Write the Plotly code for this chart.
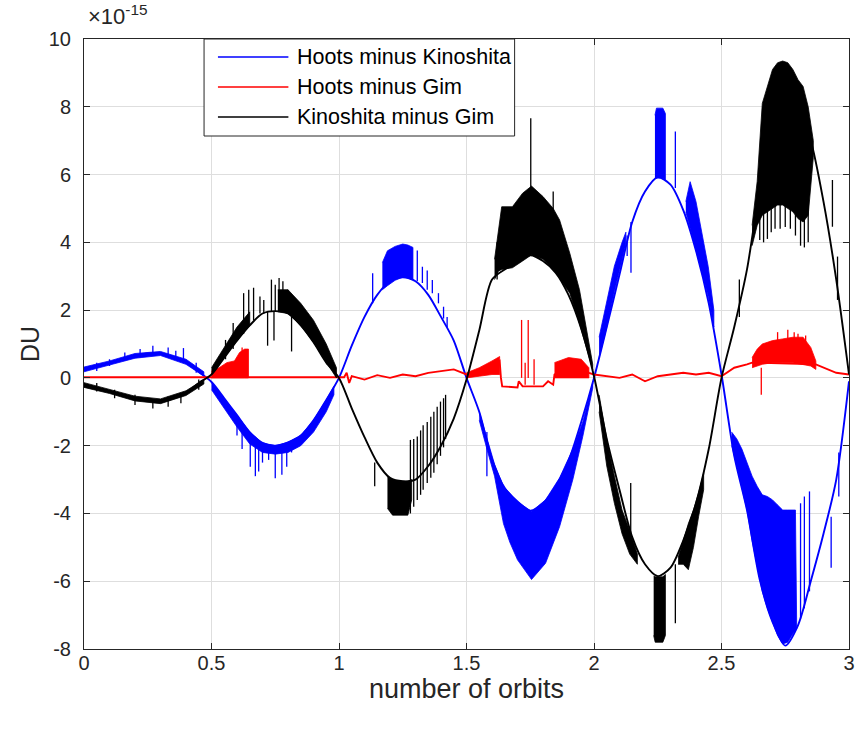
import plotly.graph_objects as go

# ---------------- data (values in units of 1e-15 DU) ----------------
X_SAMPLES = [0.0, 0.05, 0.1, 0.15, 0.2, 0.25, 0.3, 0.35, 0.4, 0.45,
             0.5, 0.55, 0.6, 0.65, 0.7, 0.75, 0.8, 0.85, 0.9, 0.95,
             1.0, 1.05, 1.1, 1.15, 1.2, 1.25, 1.3, 1.35, 1.4, 1.45,
             1.5, 1.55, 1.6, 1.65, 1.7, 1.75, 1.8, 1.85, 1.9, 1.95,
             2.0, 2.05, 2.1, 2.15, 2.2, 2.25, 2.3, 2.35, 2.4, 2.45,
             2.5, 2.55, 2.6, 2.65, 2.7, 2.75, 2.8, 2.85, 2.9, 2.95,
             3.0]

BLUE_BASE = [0.25, 0.35, 0.45, 0.55, 0.65, 0.72, 0.72, 0.62, 0.45, 0.18,
             -0.12, -0.6, -1.1, -1.6, -1.92, -2.0, -1.9, -1.7, -1.25, -0.65,
             0.0, 0.95, 1.8, 2.45, 2.85, 2.97, 2.85, 2.45, 1.8, 1.1,
             0.0, -1.0, -2.4, -3.25, -3.65, -3.92, -3.7, -3.2, -2.45, -1.3,
             0.0, 1.5, 3.05, 4.6, 5.5, 5.92, 5.7, 4.95, 3.75, 2.2,
             0.1, -2.3, -3.9, -5.95, -7.2, -7.9, -7.3, -6.0, -4.6, -3.0,
             -0.1]

BLACK_BASE = [-0.2, -0.3, -0.4, -0.5, -0.6, -0.65, -0.7, -0.6, -0.45, -0.15,
              0.1, 0.6, 1.1, 1.55, 1.9, 1.97, 1.9, 1.55, 1.05, 0.45,
              0.0, -0.9, -1.75, -2.5, -2.95, -3.05, -3.0, -2.6, -2.0, -1.2,
              -0.05, 1.4, 2.9, 3.2, 3.4, 3.62, 3.45, 3.1, 2.45, 1.45,
              0.05, -1.8, -3.3, -4.7, -5.5, -5.85, -5.6, -4.8, -3.7, -2.1,
              0.0, 1.5, 3.2, 5.6, 7.4, 8.35, 7.95, 7.0, 5.2, 2.9,
              0.1]

RED_X = [0.0, 0.5, 0.645, 1.02, 1.03, 1.04, 1.05, 1.1, 1.15, 1.2, 1.25, 1.3, 1.35, 1.4, 1.45, 1.5,
         1.55, 1.6, 1.63, 1.635, 1.64, 1.70, 1.705, 1.72, 1.80, 1.82, 1.84, 1.845, 1.9, 1.95, 1.98, 2.0,
         2.05, 2.1, 2.15, 2.2, 2.25, 2.3, 2.35, 2.4, 2.45, 2.5, 2.55, 2.6, 2.62, 2.87, 2.9, 2.95, 3.0]
RED_Y = [0.02, 0.02, 0.02, 0.02, 0.15, -0.15, 0.05, -0.05, 0.08, 0.0, 0.1, 0.05, 0.15, 0.2, 0.25, 0.1,
         0.2, 0.35, 0.5, 0.0, -0.25, -0.28, -0.1, -0.25, -0.25, -0.1, -0.2, 0.1, 0.35, 0.3, 0.15, 0.1,
         0.05, 0.0, 0.1, -0.1, 0.05, 0.1, 0.15, 0.1, 0.15, 0.05, 0.3, 0.4, 0.45, 0.4, 0.3, 0.15, 0.1]

# dense hatched regions (x, lower edge, upper edge)
BLUE_L1_X = [0.0, 0.1, 0.2, 0.3, 0.4, 0.47]
BLUE_L1_LO = [0.18, 0.38, 0.58, 0.66, 0.4, 0.05]
BLUE_L1_HI = [0.32, 0.5, 0.72, 0.78, 0.55, 0.18]
BLUE_L2_X = [0.50, 0.55, 0.60, 0.65, 0.70, 0.75, 0.80, 0.85, 0.90, 0.95, 0.98]
BLUE_L2_LO = [-0.35, -0.9, -1.45, -1.95, -2.2, -2.25, -2.2, -2.0, -1.6, -1.0, -0.5]
BLUE_L2_HI = [-0.12, -0.6, -1.1, -1.6, -1.92, -2.0, -1.9, -1.7, -1.25, -0.65, -0.25]
BLUE_L3_X = [1.17, 1.19, 1.22, 1.25, 1.27, 1.29]
BLUE_L3_LO = [2.6, 2.72, 2.88, 2.97, 2.95, 2.9]
BLUE_L3_HI = [3.4, 3.75, 3.88, 3.95, 3.92, 3.85]
BLUE_L4_X = [1.55, 1.58, 1.61, 1.645, 1.67, 1.70, 1.755, 1.81, 1.865, 1.917, 1.956, 1.995]
BLUE_L4_LO = [-1.25, -2.1, -2.9, -4.3, -4.85, -5.37, -5.95, -5.47, -4.39, -3.0, -1.73, -0.3]
BLUE_L4_HI = [-1.0, -1.75, -2.55, -3.2, -3.4, -3.65, -3.94, -3.6, -2.95, -2.1, -1.3, -0.15]
BLUE_L5A_X = [2.02, 2.05, 2.08, 2.11, 2.125]
BLUE_L5A_LO = [0.6, 1.5, 2.55, 3.5, 3.95]
BLUE_L5A_HI = [1.2, 2.3, 3.3, 4.0, 4.3]
BLUE_L5B_X = [2.239, 2.245, 2.27, 2.28]
BLUE_L5B_LO = [5.88, 5.9, 5.9, 5.85]
BLUE_L5B_HI = [7.75, 7.96, 7.96, 7.8]
BLUE_L5C_X = [2.36, 2.377, 2.40, 2.42, 2.448, 2.47]
BLUE_L5C_LO = [4.9, 4.4, 3.75, 3.2, 2.4, 1.5]
BLUE_L5C_HI = [5.2, 5.79, 5.2, 4.37, 3.28, 2.0]
BLUE_L6_X = [2.54, 2.56, 2.58, 2.60, 2.62, 2.64, 2.66, 2.68, 2.70, 2.72, 2.74, 2.76, 2.78, 2.79, 2.795]
BLUE_L6_LO = [-2.0, -2.6, -3.2, -3.9, -4.8, -5.6, -6.3, -6.8, -7.2, -7.6, -7.85, -7.8, -7.55, -7.45, -7.4]
BLUE_L6_HI = [-1.6, -1.8, -2.1, -2.5, -2.9, -3.2, -3.45, -3.5, -3.6, -3.75, -3.9, -3.9, -3.9, -3.9, -7.4]

BLACK_L1_X = [0.0, 0.1, 0.2, 0.3, 0.4, 0.47]
BLACK_L1_LO = [-0.28, -0.46, -0.68, -0.76, -0.52, -0.18]
BLACK_L1_HI = [-0.14, -0.34, -0.54, -0.62, -0.38, -0.05]
BLACK_L2A_X = [0.50, 0.55, 0.60, 0.65]
BLACK_L2A_LO = [0.1, 0.6, 1.1, 1.55]
BLACK_L2A_HI = [0.3, 0.9, 1.5, 1.95]
BLACK_L2B_X = [0.76, 0.80, 0.85, 0.90, 0.95, 0.99]
BLACK_L2B_LO = [1.95, 1.9, 1.55, 1.05, 0.45, 0.0]
BLACK_L2B_HI = [2.6, 2.6, 2.2, 1.7, 1.0, 0.3]
BLACK_L3_X = [1.19, 1.21, 1.24, 1.27, 1.285]
BLACK_L3_LO = [-3.85, -4.05, -4.05, -4.05, -3.6]
BLACK_L3_HI = [-2.9, -3.0, -3.05, -3.05, -3.0]
BLACK_L4_X = [1.61, 1.625, 1.638, 1.68, 1.72, 1.755, 1.80, 1.84, 1.865, 1.905, 1.943, 1.995]
BLACK_L4_LO = [2.9, 3.15, 3.2, 3.25, 3.45, 3.63, 3.5, 3.2, 2.95, 2.5, 1.61, 0.24]
BLACK_L4_HI = [3.5, 4.3, 5.05, 5.05, 5.45, 5.66, 5.35, 5.0, 4.66, 3.68, 2.6, 0.4]
BLACK_L5A_X = [2.02, 2.05, 2.08, 2.11, 2.14, 2.17]
BLACK_L5A_LO = [-1.0, -2.6, -3.7, -4.6, -5.2, -5.5]
BLACK_L5A_HI = [-0.5, -1.8, -2.9, -3.9, -4.5, -5.2]
BLACK_L5B_X = [2.234, 2.24, 2.27, 2.28]
BLACK_L5B_LO = [-7.6, -7.8, -7.8, -7.6]
BLACK_L5B_HI = [-5.85, -5.87, -5.87, -5.8]
BLACK_L5C_X = [2.33, 2.35, 2.37, 2.39, 2.41, 2.43]
BLACK_L5C_LO = [-5.5, -5.5, -5.66, -5.0, -4.1, -3.3]
BLACK_L5C_HI = [-5.3, -4.8, -4.3, -3.9, -3.4, -2.8]
BLACK_L6_X = [2.62, 2.64, 2.66, 2.68, 2.70, 2.72, 2.74, 2.76, 2.78, 2.80, 2.82, 2.84, 2.86]
BLACK_L6_LO = [3.9, 4.5, 4.8, 4.9, 5.0, 5.1, 5.1, 5.0, 4.9, 4.7, 4.6, 4.8, 6.5]
BLACK_L6_HI = [4.5, 5.8, 8.1, 8.6, 9.1, 9.3, 9.35, 9.3, 9.1, 8.8, 8.6, 8.0, 7.0]

RED_L2_X = [0.50, 0.53, 0.56, 0.59, 0.61, 0.63, 0.645]
RED_L2_LO = [0.0, 0.0, 0.0, 0.0, 0.0, 0.0, 0.0]
RED_L2_HI = [0.2, 0.3, 0.45, 0.5, 0.75, 0.85, 0.85]
RED_L4A_X = [1.50, 1.55, 1.60, 1.63]
RED_L4A_LO = [0.0, 0.05, 0.1, 0.1]
RED_L4A_HI = [0.15, 0.3, 0.5, 0.63]
RED_L4B_X = [1.845, 1.90, 1.95, 1.98]
RED_L4B_LO = [0.0, 0.0, 0.0, 0.0]
RED_L4B_HI = [0.45, 0.6, 0.55, 0.3]
RED_L6_X = [2.62, 2.64, 2.66, 2.70, 2.74, 2.78, 2.82, 2.85, 2.87]
RED_L6_LO = [0.3, 0.35, 0.4, 0.45, 0.45, 0.45, 0.4, 0.35, 0.25]
RED_L6_HI = [0.6, 0.85, 1.0, 1.1, 1.15, 1.2, 1.2, 0.9, 0.5]

# isolated vertical spikes (x, from, to)
BLUE_SPIKE_X = [0.05, 0.1, 0.16, 0.22, 0.27, 0.33, 0.36, 0.39, 0.44,
                0.60, 0.62, 0.652, 0.672, 0.685, 0.70, 0.724, 0.75, 0.776, 0.795, 0.814,
                1.132, 1.28, 1.307, 1.327, 1.346, 1.366, 1.39, 1.41, 1.424,
                1.58, 2.13, 2.145, 2.319, 2.81, 2.825, 2.845, 2.93, 2.96]
BLUE_SPIKE_Y0 = [0.2, 0.35, 0.5, 0.6, 0.72, 0.6, 0.55, 0.5, 0.15,
                 -1.1, -1.3, -1.6, -1.8, -1.9, -1.95, -2.0, -2.0, -1.95, -1.9, -1.85,
                 2.2, 2.9, 2.85, 2.8, 2.6, 2.5, 2.2, 1.75, 1.5,
                 -1.6, 3.6, 4.6, 5.6, -7.1, -6.8, -6.3, -4.1, -2.2]
BLUE_SPIKE_Y1 = [0.45, 0.55, 0.75, 0.85, 0.95, 0.9, 0.8, 0.88, 0.45,
                 -1.7, -2.1, -2.62, -2.9, -2.76, -2.5, -2.42, -2.96, -2.86, -2.62, -2.2,
                 3.09, 3.85, 3.76, 3.28, 3.17, 2.89, 2.5, 2.1, 1.8,
                 -2.9, 4.2, 3.1, 7.27, -3.7, -3.5, -3.35, -5.6, -3.5]

BLACK_SPIKE_X = [0.05, 0.12, 0.2, 0.27, 0.33, 0.38, 0.45,
                 0.555, 0.585, 0.626, 0.646, 0.665, 0.69, 0.705, 0.735, 0.75, 0.765, 0.78, 0.80, 0.72, 0.745, 0.814,
                 1.14, 1.28, 1.293, 1.307, 1.32, 1.33, 1.346, 1.36, 1.372, 1.385, 1.398, 1.41, 1.418,
                 1.62, 1.752, 1.84, 2.144, 2.319, 2.57, 2.935, 2.955,
                 2.65, 2.665, 2.68, 2.695, 2.71, 2.73, 2.75, 2.77, 2.79, 2.81, 2.825, 2.84]
BLACK_SPIKE_Y0 = [-0.15, -0.35, -0.5, -0.7, -0.55, -0.45, -0.05,
                  0.55, 0.85, 1.3, 1.5, 1.7, 1.9, 1.9, 1.95, 1.95, 1.95, 1.95, 1.9, 1.95, 1.97, 1.8,
                  -2.5, -4.0, -3.8, -3.6, -3.45, -3.3, -3.1, -2.95, -2.8, -2.55, -2.3, -2.05, -1.8,
                  2.9, 5.6, 4.8, -3.1, -5.5, 1.8, 4.46, 2.3,
                  5.5, 6.0, 6.2, 6.3, 6.3, 6.3, 6.3, 6.2, 6.0, 5.8, 5.6, 5.6]
BLACK_SPIKE_Y1 = [-0.4, -0.6, -0.8, -0.9, -0.85, -0.75, -0.35,
                  1.12, 1.62, 2.5, 2.6, 2.66, 2.4, 2.3, 2.9, 2.75, 2.95, 2.85, 2.6, 0.95, 1.1, 0.78,
                  -3.2, -1.83, -1.8, -1.73, -1.55, -1.4, -1.3, -1.15, -1.0, -0.85, -0.7, -0.6, -0.5,
                  4.0, 7.66, 5.5, -4.6, -7.24, 2.9, 5.84, 3.58,
                  4.07, 4.0, 4.1, 4.3, 4.4, 4.4, 4.45, 4.4, 4.2, 3.9, 3.85, 4.0]

RED_SPIKE_X = [0.62, 1.716, 1.742, 1.73, 1.765, 2.656, 2.72, 2.76, 2.785, 2.80, 2.83]
RED_SPIKE_Y0 = [0.0, 0.0, 0.0, -0.2, -0.2, 0.3, 0.6, 0.6, 0.5, 0.5, 0.5]
RED_SPIKE_Y1 = [0.9, 1.71, 1.71, 0.45, 0.55, -0.5, 1.35, 1.42, 1.35, 1.3, 1.25]

XTICK_VALUES = [0, 0.5, 1, 1.5, 2, 2.5, 3]
XTICK_LABELS = ["0", "0.5", "1", "1.5", "2", "2.5", "3"]
YTICK_VALUES = [-8, -6, -4, -2, 0, 2, 4, 6, 8, 10]
YTICK_LABELS = ["-8", "-6", "-4", "-2", "0", "2", "4", "6", "8", "10"]
SERIES_NAMES = ["Hoots minus Kinoshita", "Hoots minus Gim", "Kinoshita minus Gim"]

BLUE_BANDS = [(BLUE_L1_X, BLUE_L1_LO, BLUE_L1_HI), (BLUE_L2_X, BLUE_L2_LO, BLUE_L2_HI),
              (BLUE_L3_X, BLUE_L3_LO, BLUE_L3_HI), (BLUE_L4_X, BLUE_L4_LO, BLUE_L4_HI),
              (BLUE_L5A_X, BLUE_L5A_LO, BLUE_L5A_HI), (BLUE_L5B_X, BLUE_L5B_LO, BLUE_L5B_HI),
              (BLUE_L5C_X, BLUE_L5C_LO, BLUE_L5C_HI), (BLUE_L6_X, BLUE_L6_LO, BLUE_L6_HI)]
BLACK_BANDS = [(BLACK_L1_X, BLACK_L1_LO, BLACK_L1_HI), (BLACK_L2A_X, BLACK_L2A_LO, BLACK_L2A_HI),
               (BLACK_L2B_X, BLACK_L2B_LO, BLACK_L2B_HI), (BLACK_L3_X, BLACK_L3_LO, BLACK_L3_HI),
               (BLACK_L4_X, BLACK_L4_LO, BLACK_L4_HI), (BLACK_L5A_X, BLACK_L5A_LO, BLACK_L5A_HI),
               (BLACK_L5B_X, BLACK_L5B_LO, BLACK_L5B_HI), (BLACK_L5C_X, BLACK_L5C_LO, BLACK_L5C_HI),
               (BLACK_L6_X, BLACK_L6_LO, BLACK_L6_HI)]
RED_BANDS = [(RED_L2_X, RED_L2_LO, RED_L2_HI), (RED_L4A_X, RED_L4A_LO, RED_L4A_HI),
             (RED_L4B_X, RED_L4B_LO, RED_L4B_HI), (RED_L6_X, RED_L6_LO, RED_L6_HI)]

BLUE, RED, BLACK = "#0000ff", "#ff0000", "#000000"
AXIS_COLOR = "#262626"
FONT = "Liberation Sans, Arial, Helvetica, sans-serif"


def segments(xs, y0s, y1s):
    X, Y = [], []
    for x, a, b in zip(xs, y0s, y1s):
        X += [x, x, None]
        Y += [a, b, None]
    return X, Y


def polygons(bands):
    X, Y = [], []
    for xs, lo, hi in bands:
        X += list(xs) + list(xs)[::-1] + [None]
        Y += list(hi) + list(lo)[::-1] + [None]
    return X, Y


fig = go.Figure()


def add_series(color, bands, sx, sy0, sy1, lx, ly, shape):
    px, py = polygons(bands)
    fig.add_trace(go.Scatter(x=px, y=py, mode="lines", fill="toself", fillcolor=color,
                             line=dict(color=color, width=0.8), hoverinfo="skip", showlegend=False))
    kx, ky = segments(sx, sy0, sy1)
    fig.add_trace(go.Scatter(x=kx, y=ky, mode="lines", line=dict(color=color, width=1.3),
                             hoverinfo="skip", showlegend=False))
    line = dict(color=color, width=1.9, shape=shape)
    if shape == "spline":
        line["smoothing"] = 0.8
    fig.add_trace(go.Scatter(x=lx, y=ly, mode="lines", line=line, showlegend=False))


add_series(BLUE, BLUE_BANDS, BLUE_SPIKE_X, BLUE_SPIKE_Y0, BLUE_SPIKE_Y1, X_SAMPLES, BLUE_BASE, "spline")
add_series(RED, RED_BANDS, RED_SPIKE_X, RED_SPIKE_Y0, RED_SPIKE_Y1, RED_X, RED_Y, "linear")
add_series(BLACK, BLACK_BANDS, BLACK_SPIKE_X, BLACK_SPIKE_Y0, BLACK_SPIKE_Y1, X_SAMPLES, BLACK_BASE, "spline")

# ---------------- layout ----------------
L, R, T, B = 84, 12, 39, 83
W, H = 867, 732
PW, PH = W - L - R, H - T - B


def px_x(p):
    return (p - L) / PW


def px_y(p):
    return (H - B - p) / PH


fig.update_layout(
    width=W, height=H, margin=dict(l=L, r=R, t=T, b=B),
    paper_bgcolor="white", plot_bgcolor="white", showlegend=False,
    font=dict(family=FONT, color=AXIS_COLOR, size=20),
)
fig.update_xaxes(range=[0, 3], tickvals=XTICK_VALUES, ticktext=XTICK_LABELS,
                 ticks="inside", ticklen=6, tickcolor=AXIS_COLOR, showline=True, linecolor=AXIS_COLOR,
                 linewidth=1, mirror="ticks", showgrid=True, gridcolor="#dedede", gridwidth=1,
                 zeroline=False, ticklabelstandoff=-4, tickfont=dict(size=20),
                 title=dict(text="number of orbits", font=dict(size=27), standoff=0))
fig.update_yaxes(range=[-8, 10], tickvals=YTICK_VALUES, ticktext=YTICK_LABELS,
                 ticks="inside", ticklen=6, tickcolor=AXIS_COLOR, showline=True, linecolor=AXIS_COLOR,
                 linewidth=1, mirror="ticks", showgrid=True, gridcolor="#dedede", gridwidth=1,
                 zeroline=False, ticklabelstandoff=8, tickfont=dict(size=20),
                 title=dict(text="DU", font=dict(size=25), standoff=2))

# exponent label
fig.add_annotation(x=px_x(86), y=px_y(31), xref="paper", yref="paper", xanchor="left", yanchor="bottom",
                   text="×10<sup>-15</sup>", showarrow=False, font=dict(size=22, color=AXIS_COLOR))

# legend box (MATLAB style)
LEG_X0, LEG_X1, LEG_Y0, LEG_Y1 = 205, 518, 39, 136
fig.add_shape(type="rect", xref="paper", yref="paper", x0=px_x(LEG_X0), x1=px_x(LEG_X1),
              y0=px_y(LEG_Y1), y1=px_y(LEG_Y0), line=dict(color=AXIS_COLOR, width=1), fillcolor="white",
              layer="above")
for i, (name, col) in enumerate(zip(SERIES_NAMES, [BLUE, RED, BLACK])):
    yy = 57 + 30 * i
    fig.add_shape(type="line", xref="paper", yref="paper", x0=px_x(219), x1=px_x(290),
                  y0=px_y(yy), y1=px_y(yy), line=dict(color=col, width=1.6), layer="above")
    fig.add_annotation(x=px_x(297), y=px_y(yy), xref="paper", yref="paper", xanchor="left",
                       yanchor="middle", text=name, showarrow=False,
                       font=dict(size=21.5, color="#000000"))

fig.write_html("out.html")
